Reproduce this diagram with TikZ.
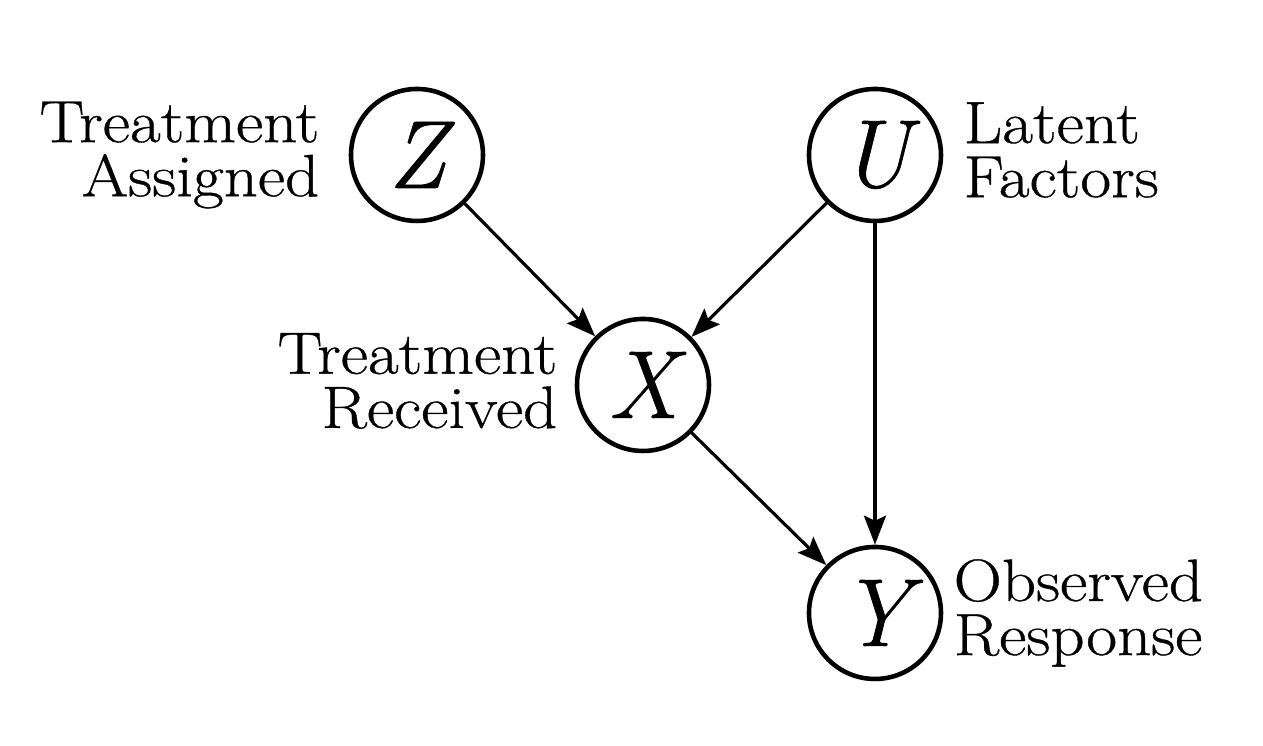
\documentclass[tikz,border=0pt]{standalone}
\usepackage{fontspec}
\setmainfont{Latin Modern Roman}
\newfontfamily\labfont[FakeStretch=1.12,FakeBold=0.6]{Latin Modern Roman}
\newfontfamily\varfont[FakeBold=0.6]{Latin Modern Roman}
\usetikzlibrary{arrows.meta}
\tikzset {>={Stealth[length=2.9mm,width=2.2mm,inset=0.5mm]}}

\begin{document}
\begin{tikzpicture}[var/.style={draw,circle,line width=1.3pt,minimum size=1.32cm,inner sep=0pt,font=\varfont\fontsize{27.5}{30}\selectfont\itshape},
  lab/.style={inner sep=0pt,font=\labfont\fontsize{17}{15.4}\selectfont},
  edge/.style={->,line width=0.9pt}]
\useasboundingbox (0,0) rectangle (12.63,7.46);
\node[var] (Z) at (4.17,5.91) {Z};
\node[var] (U) at (8.75,5.91) {U};
\node[var] (X) at (6.43,3.61) {X};
\node[var] (Y) at (8.75,1.33) {Y};
\node[lab,anchor=east,align=right] (assigned) at (3.20,5.91) {Treatment\\Assigned};
\node[lab,anchor=west,align=left] (latent) at (9.63,5.96) {Latent\\Factors};
\node[lab,anchor=west,align=left] (observed) at (9.53,1.33) {Observed\\Response};
\node[lab,anchor=east,align=right] (received) at (5.58,3.65) {Treatment\\Received};
\draw[edge] (Z) -- (X);
\draw[edge] (U) -- (X);
\draw[edge] (U) -- (Y);
\draw[edge] (X) -- (Y);
\end{tikzpicture}
\end{document}
